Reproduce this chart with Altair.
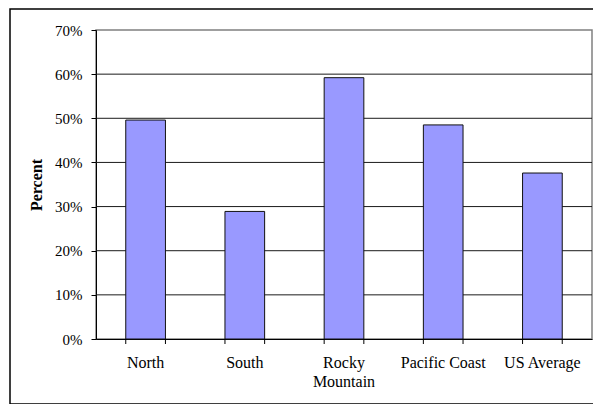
import altair as alt
import pandas as pd

categories = ["North", "South", "Rocky Mountain", "Pacific Coast", "US Average"]
percent = [0.496, 0.289, 0.592, 0.485, 0.376]
y_ticks = [0.0, 0.1, 0.2, 0.3, 0.4, 0.5, 0.6, 0.7]
grid_values = [0.1, 0.2, 0.3, 0.4, 0.5, 0.6]

df = pd.DataFrame({"region": categories, "pct": percent})
grid_df = pd.DataFrame({"g": grid_values})

W, H = 496, 309
FONT = "Liberation Serif"

xscale = alt.Scale(domain=categories, paddingInner=0.6, paddingOuter=0.3)
yscale = alt.Scale(domain=[0, 0.7], nice=False)

border = alt.Chart(alt.Data(values=[{}])).mark_rect(
    fill=None, stroke="black", strokeWidth=1.5, clip=False
).encode(
    x=alt.value(-86), x2=alt.value(W + 40),
    y=alt.value(-21), y2=alt.value(H + 65),
)

grid = alt.Chart(grid_df).mark_rule(color="#1a1a1a", strokeWidth=1).encode(
    y=alt.Y("g:Q", scale=yscale),
)

bars = alt.Chart(df).mark_bar(
    color="#9999FF", stroke="#111111", strokeWidth=1
).encode(
    x=alt.X(
        "region:N", scale=xscale, sort=categories, title=None,
        axis=alt.Axis(
            labelAngle=0, ticks=False, domain=True, domainColor="black",
            labelFont=FONT, labelFontSize=16, labelColor="black",
            labelPadding=15, labelLineHeight=19,
            labelExpr="datum.label == 'Rocky Mountain' ? ['Rocky', 'Mountain'] : datum.label",
        ),
    ),
    y=alt.Y(
        "pct:Q", scale=yscale, title="Percent",
        axis=alt.Axis(
            values=y_ticks, format=".0%", grid=False,
            domainColor="black", tickColor="black", tickSize=5,
            labelFont=FONT, labelFontSize=15, labelColor="black", labelPadding=9,
            titleFont=FONT, titleFontSize=16, titleFontWeight="bold",
            titleColor="black", titlePadding=10,
        ),
    ),
)

xticks0 = alt.Chart(df).mark_rule(color="black", strokeWidth=1).encode(
    x=alt.X("region:N", scale=xscale, sort=categories, bandPosition=0),
    y=alt.value(H), y2=alt.value(H + 5),
)
xticks1 = alt.Chart(df).mark_rule(color="black", strokeWidth=1).encode(
    x=alt.X("region:N", scale=xscale, sort=categories, bandPosition=1),
    y=alt.value(H), y2=alt.value(H + 5),
)

chart = alt.layer(border, grid, bars, xticks0, xticks1).properties(
    width=W, height=H,
    autosize=alt.AutoSizeParams(type="none"),
    padding={"left": 88, "top": 22, "right": 1, "bottom": 65},
    background="white",
).configure_view(
    stroke="#808080", strokeWidth=1.5
).configure_axis(
    domainWidth=1, tickWidth=1
)

chart.save("out.html", embed_options={"renderer": "svg", "actions": False})
